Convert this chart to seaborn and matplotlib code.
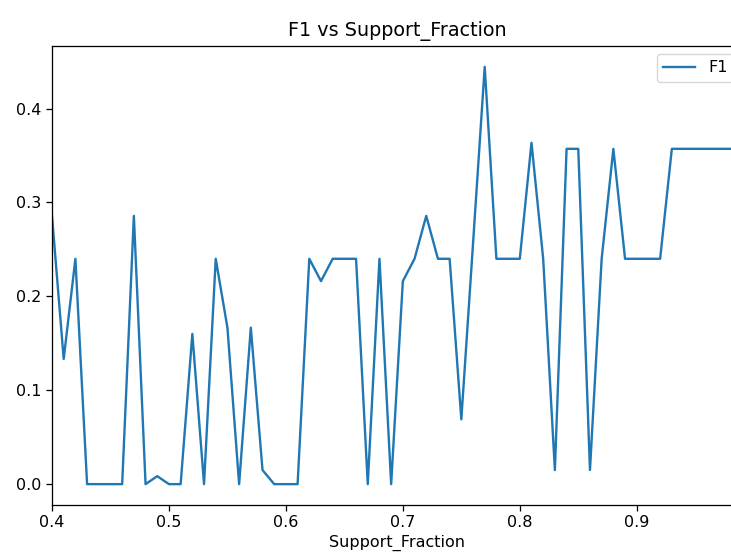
import matplotlib
matplotlib.use("Agg")
import matplotlib.pyplot as plt
import seaborn as sns
import numpy as np
import pandas as pd

support_fraction = [0.40, 0.41, 0.42, 0.43, 0.44, 0.45, 0.46, 0.47, 0.48, 0.49,
                    0.50, 0.51, 0.52, 0.53, 0.54, 0.55, 0.56, 0.57, 0.58, 0.59,
                    0.60, 0.61, 0.62, 0.63, 0.64, 0.65, 0.66, 0.67, 0.68, 0.69,
                    0.70, 0.71, 0.72, 0.73, 0.74, 0.75, 0.76, 0.77, 0.78, 0.79,
                    0.80, 0.81, 0.82, 0.83, 0.84, 0.85, 0.86, 0.87, 0.88, 0.89,
                    0.90, 0.91, 0.92, 0.93, 0.94, 0.95, 0.96, 0.97, 0.98, 0.99]
f1 = [0.2857, 0.1333, 0.24, 0.0, 0.0, 0.0, 0.0, 0.2857, 0.0, 0.0085,
      0.0, 0.0, 0.16, 0.0, 0.24, 0.1667, 0.0, 0.1667, 0.015, 0.0,
      0.0, 0.0, 0.24, 0.2162, 0.24, 0.24, 0.24, 0.0, 0.24, 0.0,
      0.2162, 0.24, 0.2857, 0.24, 0.24, 0.069, 0.256, 0.4444, 0.24, 0.24,
      0.24, 0.3636, 0.24, 0.015, 0.3571, 0.3571, 0.015, 0.24, 0.3571, 0.24,
      0.24, 0.24, 0.24, 0.3571, 0.3571, 0.3571, 0.3571, 0.3571, 0.3571, 0.3571]

df = pd.DataFrame({"Support_Fraction": support_fraction, "F1": f1})

plt.rcParams["axes.linewidth"] = 0.92
plt.rcParams["xtick.major.width"] = 0.92
plt.rcParams["ytick.major.width"] = 0.92
plt.rcParams["xtick.major.size"] = 4
plt.rcParams["ytick.major.size"] = 4

fig = plt.figure(figsize=(7.31, 5.53), dpi=100)
ax = fig.add_axes([52 / 731, 1 - 505 / 553, 690 / 731, (505 - 46) / 553])
sns.lineplot(data=df, x="Support_Fraction", y="F1", ax=ax, color="#1f77b4",
             linewidth=1.7, label="F1")
ax.set_xlim(0.40, 0.99)
ax.set_ylabel("")
ax.set_xlabel("Support_Fraction", fontsize=11.5, labelpad=3)
ax.set_title("F1 vs Support_Fraction", fontsize=13.8, pad=7)
ax.tick_params(labelsize=11.5)
ax.legend(loc="upper right", fontsize=11.5)
fig.savefig("out.png", dpi=100)
